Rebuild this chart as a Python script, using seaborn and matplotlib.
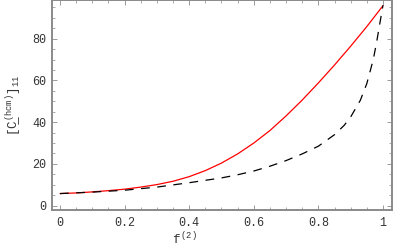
import numpy as np
import pandas as pd
import matplotlib
matplotlib.use("Agg")
import matplotlib.pyplot as plt
from matplotlib.ticker import MultipleLocator
import seaborn as sns

# datos
f_rojo = [0.0, 0.05, 0.1, 0.15, 0.2, 0.25, 0.3, 0.35, 0.4, 0.45, 0.5, 0.55,
          0.6, 0.65, 0.7, 0.75, 0.8, 0.85, 0.9, 0.95, 1.0]
c_rojo = [5.8, 6.1, 6.6, 7.2, 7.9, 8.9, 10.1, 11.7, 13.9, 16.8, 20.4, 24.8,
          30.0, 36.0, 43.0, 50.6, 58.8, 67.4, 76.4, 85.8, 95.8]

f_trazos = [0.0, 0.1, 0.2, 0.3, 0.4, 0.5, 0.55, 0.6, 0.65, 0.7, 0.75, 0.8,
            0.85, 0.88, 0.9, 0.93, 0.95, 0.97, 0.98, 0.99, 1.0]
c_trazos = [5.8, 6.5, 7.4, 8.9, 11.0, 13.3, 14.8, 16.6, 18.9, 21.6, 24.8, 28.5,
            34.0, 38.5, 42.5, 50.5, 58.5, 70.0, 78.0, 87.0, 96.0]

sns.set_style("ticks")
plt.rcParams["font.family"] = ["Liberation Mono", "DejaVu Sans"]
plt.rcParams["mathtext.fontset"] = "custom"
plt.rcParams["mathtext.rm"] = "Liberation Mono"
plt.rcParams["mathtext.it"] = "Liberation Mono"

gris = "#8a8a8a"

fig = plt.figure(figsize=(4.0, 2.47), dpi=100)
ax = fig.add_axes([0.129, 0.15, 0.851, 0.848])

sns.lineplot(x=f_rojo, y=c_rojo, ax=ax, color="red", linewidth=0.9)
sns.lineplot(x=f_trazos, y=c_trazos, ax=ax, color="black", linewidth=0.9)
ax.lines[-1].set_dashes([7, 6])

ax.set_xlim(-0.026, 1.028)
ax.set_ylim(-2.05, 98.3)

ax.xaxis.set_minor_locator(MultipleLocator(0.05))
ax.yaxis.set_major_locator(MultipleLocator(20))
ax.yaxis.set_minor_locator(MultipleLocator(5))
ax.set_xticks([0, 0.2, 0.4, 0.6, 0.8, 1.0])
ax.set_xticklabels(["0", "0.2", "0.4", "0.6", "0.8", "1"])

ax.tick_params(which="both", direction="in", top=True, right=True,
               color=gris, labelsize=8.5, labelcolor="#333333")
ax.tick_params(which="major", length=3.5, width=0.6)
ax.tick_params(which="minor", length=2, width=0.5)
ax.tick_params(axis="x", pad=5)
ax.tick_params(axis="y", pad=4)

for lado in ax.spines.values():
    lado.set_color(gris)
    lado.set_linewidth(1.4)

ax.set_xlabel(r"f$^{\,(2)}$", fontsize=9, color="#333333")
ax.xaxis.set_label_coords(0.39, -0.1)
ax.set_ylabel(r"[C̲$^{(\mathrm{hcm})}$]$_{11}$", fontsize=9, color="#333333")
ax.yaxis.set_label_coords(-0.08, 0.5)

fig.savefig("out.png", dpi=100)
